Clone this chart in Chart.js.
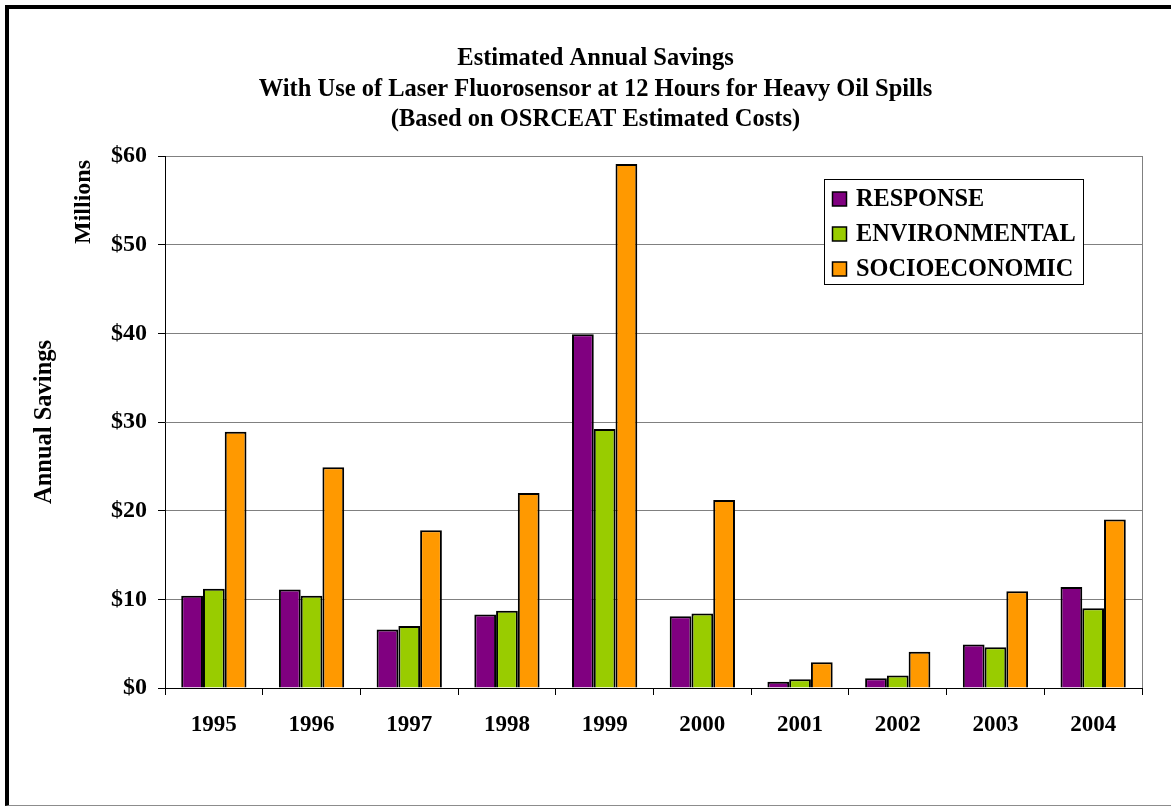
<!DOCTYPE html>
<html>
<head>
<meta charset="utf-8">
<script src="https://cdn.jsdelivr.net/npm/chart.js@4/dist/chart.umd.min.js"></script>
<style>
  html, body { margin: 0; padding: 0; background: #fff; width: 1171px; height: 807px; overflow: hidden; }
  #wrap { position: absolute; left: 0; top: 0; width: 1191px; height: 807px; }
  #frame { position: absolute; left: 5px; top: 5px; width: 1300px; height: 801px;
           border-left: 4px solid #000; border-top: 4px solid #000; border-bottom: 1px solid #8c8c8c;
           pointer-events: none; box-sizing: border-box; }
</style>
</head>
<body>
<div id="wrap"><canvas id="c" width="1191" height="807"></canvas></div>
<div id="frame"></div>
<script>
const categories = ['1995','1996','1997','1998','1999','2000','2001','2002','2003','2004'];
const response      = [10.4, 11.1, 6.6, 8.3, 39.9, 8.1, 0.7, 1.1, 4.9, 11.4];
const environmental = [11.2, 10.4, 7.0, 8.7, 29.2, 8.4, 1.0, 1.4, 4.6, 9.0];
const socioeconomic = [28.9, 24.9, 17.8, 22.0, 59.1, 21.2, 2.9, 4.1, 10.9, 19.0];
const seriesNames = ['RESPONSE', 'ENVIRONMENTAL', 'SOCIOECONOMIC'];
const titleLines = ['Estimated Annual Savings',
                    'With Use of Laser Fluorosensor at 12 Hours for Heavy Oil Spills',
                    '(Based on OSRCEAT Estimated Costs)'];
const yTitle = 'Annual Savings';
const unitLabel = 'Millions';

const SERIF = '"Liberation Serif", "Times New Roman", serif';
const colors = ['#800080', '#99CC00', '#FF9900'];

const decor = {
  id: 'decor',
  afterDraw(chart) {
    const ctx = chart.ctx;
    const a = chart.chartArea;
    ctx.save();
    // right plot border
    ctx.strokeStyle = '#808080';
    ctx.lineWidth = 1;
    ctx.beginPath();
    ctx.moveTo(Math.round(a.right) + 0.5, a.top);
    ctx.lineTo(Math.round(a.right) + 0.5, a.bottom);
    ctx.stroke();

    // title
    ctx.fillStyle = '#000';
    ctx.font = 'bold 24.5px ' + SERIF;
    ctx.textAlign = 'center';
    ctx.textBaseline = 'alphabetic';
    const baselines = [65, 95.7, 126.4];
    titleLines.forEach((t, i) => ctx.fillText(t, 595.5, baselines[i]));

    // "Millions" rotated label
    ctx.save();
    ctx.translate(84, 202);
    ctx.rotate(-Math.PI / 2);
    ctx.font = 'bold 24px ' + SERIF;
    ctx.textAlign = 'center';
    ctx.textBaseline = 'middle';
    ctx.fillText(unitLabel, 0, 0);
    ctx.restore();

    // legend
    const lx = 824.5, ly = 179.5, lw = 259, lh = 105;
    ctx.fillStyle = '#fff';
    ctx.fillRect(lx, ly, lw, lh);
    ctx.strokeStyle = '#000';
    ctx.lineWidth = 1;
    ctx.strokeRect(lx, ly, lw, lh);
    ctx.font = 'bold 24.3px ' + SERIF;
    ctx.textAlign = 'left';
    ctx.textBaseline = 'middle';
    chart.data.datasets.forEach((ds, i) => {
      const cy = 199 + i * 35;
      ctx.fillStyle = ds.backgroundColor;
      ctx.fillRect(832.5, cy - 7, 14, 14);
      ctx.strokeStyle = '#000';
      ctx.lineWidth = 1.5;
      ctx.strokeRect(832.5, cy - 7, 14, 14);
      ctx.fillStyle = '#000';
      ctx.fillText(ds.label, 856, cy + 1);
    });
    ctx.restore();
  }
};

new Chart(document.getElementById('c'), {
  type: 'bar',
  data: {
    labels: categories,
    datasets: [
      { label: seriesNames[0], data: response,      backgroundColor: colors[0] },
      { label: seriesNames[1], data: environmental, backgroundColor: colors[1] },
      { label: seriesNames[2], data: socioeconomic, backgroundColor: colors[2] }
    ]
  },
  options: {
    responsive: false,
    animation: false,
    layout: { padding: { top: 156, right: 49, bottom: 0, left: 0 } },
    datasets: {
      bar: {
        categoryPercentage: 0.668,
        barPercentage: 1.0,
        borderColor: '#000',
        borderWidth: 2
      }
    },
    plugins: {
      legend: { display: false },
      title: { display: false },
      tooltip: { enabled: false }
    },
    scales: {
      x: {
        afterFit(s) { s.height = 119; },
        grid: { drawOnChartArea: false, drawTicks: true, tickLength: 7, color: '#000', tickColor: '#000', offset: true },
        border: { color: '#000', width: 1 },
        ticks: { color: '#000', padding: 16, font: { family: SERIF, size: 23, weight: 'bold' } }
      },
      y: {
        min: 0, max: 60,
        afterFit(s) { s.width = 165; },
        grid: { color: '#808080', lineWidth: 1, tickColor: '#000', tickLength: 7 },
        border: { color: '#000', width: 1 },
        ticks: {
          stepSize: 10, color: '#000', padding: 11,
          font: { family: SERIF, size: 24, weight: 'bold' },
          callback: v => '$' + v
        },
        title: {
          display: true, text: yTitle, color: '#000',
          font: { family: SERIF, size: 24.5, weight: 'bold' },
          padding: { top: 30, bottom: 0 }
        }
      }
    }
  },
  plugins: [decor]
});
</script>
</body>
</html>
